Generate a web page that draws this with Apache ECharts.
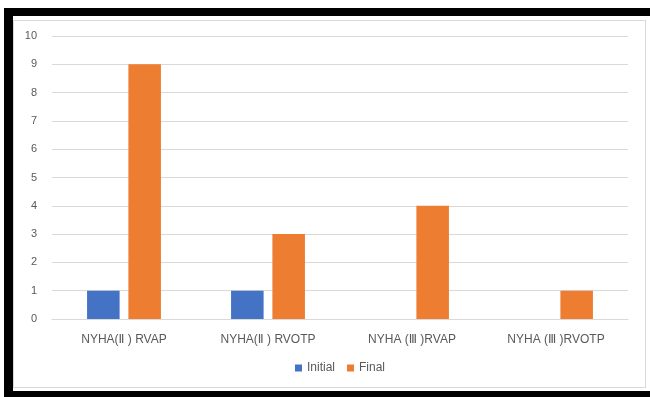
<!DOCTYPE html>
<html>
<head>
<meta charset="utf-8">
<script src="https://cdn.jsdelivr.net/npm/echarts@6/dist/echarts.min.js"></script>
<style>
    html, body { margin: 0; padding: 0; background: #fff; }
    #wrap { position: relative; width: 650px; height: 397px; overflow: hidden; }
    #chart { position: absolute; left: 0; top: 0; width: 650px; height: 397px; }
    .frame { position: absolute; background: #000; pointer-events: none; }
    #inner { position: absolute; left: 13px; top: 20px; width: 631px; height: 366px;
             border: 1px solid #d9d9d9; pointer-events: none; }
</style>
</head>
<body>
<div id="wrap">
    <div id="chart"></div>
    <div class="frame" style="left:4px;top:8px;width:646px;height:8px;"></div>
    <div class="frame" style="left:4px;top:8px;width:9px;height:389px;"></div>
    <div class="frame" style="left:4px;top:391px;width:646px;height:6px;"></div>
    <div id="inner"></div>
</div>
<script>
    // 数据
    var categories = ['NYHA(Ⅱ ) RVAP', 'NYHA(Ⅱ ) RVOTP', 'NYHA (Ⅲ )RVAP', 'NYHA (Ⅲ )RVOTP'];
    var initialValues = [1, 1, null, null];
    var finalValues = [9, 3, 4, 1];
    var yTicks = [0, 1, 2, 3, 4, 5, 6, 7, 8, 9, 10];

    var fontFamily = '"Liberation Sans", "DejaVu Sans", "Noto Sans CJK SC", sans-serif';
    var chart = echarts.init(document.getElementById('chart'));

    var option = {
        backgroundColor: 'transparent',
        animation: false,
        grid: {
            left: 52,
            right: 22,
            top: 36,
            bottom: 78
        },
        legend: {
            bottom: 18,
            left: 290,
            itemWidth: 7,
            itemHeight: 7,
            itemGap: 12,
            icon: 'rect',
            textStyle: {
                color: '#595959',
                fontSize: 12,
                fontFamily: fontFamily
            },
            data: ['Initial', 'Final']
        },
        xAxis: {
            type: 'category',
            data: categories,
            axisLine: { lineStyle: { color: '#d9d9d9', width: 1 } },
            axisTick: { show: false },
            axisLabel: {
                color: '#595959',
                fontSize: 12,
                margin: 15,
                fontFamily: fontFamily
            }
        },
        yAxis: {
            type: 'value',
            min: yTicks[0],
            max: yTicks[yTicks.length - 1],
            interval: 1,
            axisLine: { show: false },
            axisTick: { show: false },
            splitLine: { lineStyle: { color: '#d9d9d9', width: 1 } },
            axisLabel: {
                color: '#595959',
                fontSize: 11,
                margin: 15,
                fontFamily: fontFamily
            }
        },
        series: [{
            name: 'Initial',
            type: 'bar',
            data: initialValues,
            barWidth: '22.6%',
            barGap: '27%',
            itemStyle: { color: '#4472C4' }
        }, {
            name: 'Final',
            type: 'bar',
            data: finalValues,
            barWidth: '22.6%',
            barGap: '27%',
            itemStyle: { color: '#ED7D31' }
        }]
    };
    chart.setOption(option);
</script>
</body>
</html>
